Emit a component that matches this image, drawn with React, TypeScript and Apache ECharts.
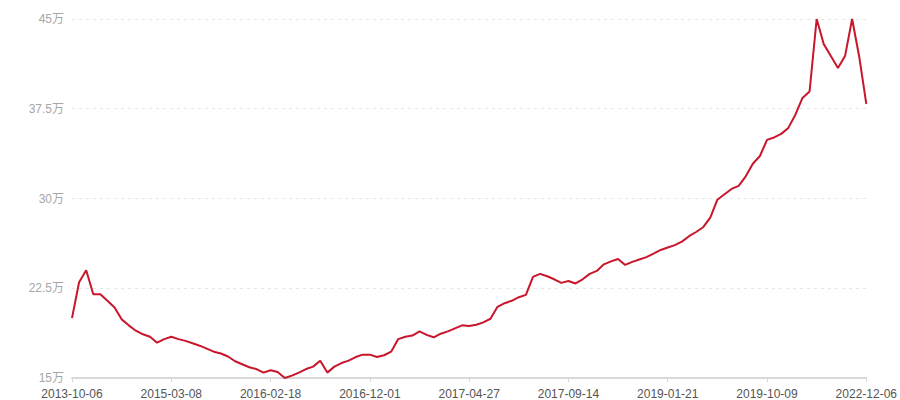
import React, { useEffect, useRef } from "react";
import * as echarts from "echarts";

// дати (категорії осі X), мітки видно кожні 14 точок
const dates = [
  "2013-10-06", "2013-11-12", "2013-12-19", "2014-01-25", "2014-03-03", "2014-04-09", "2014-05-16",
  "2014-06-22", "2014-07-29", "2014-09-04", "2014-10-11", "2014-11-17", "2014-12-24", "2015-01-30",
  "2015-03-08", "2015-04-02", "2015-04-27", "2015-05-22", "2015-06-16", "2015-07-11", "2015-08-05",
  "2015-08-30", "2015-09-24", "2015-10-19", "2015-11-13", "2015-12-08", "2016-01-02", "2016-01-27",
  "2016-02-18", "2016-03-09", "2016-03-30", "2016-04-20", "2016-05-11", "2016-06-01", "2016-06-22",
  "2016-07-13", "2016-08-03", "2016-08-24", "2016-09-14", "2016-10-05", "2016-10-26", "2016-11-14",
  "2016-12-01", "2016-12-12", "2016-12-22", "2017-01-02", "2017-01-12", "2017-01-23", "2017-02-02",
  "2017-02-13", "2017-02-23", "2017-03-06", "2017-03-16", "2017-03-27", "2017-04-06", "2017-04-17",
  "2017-04-27", "2017-05-07", "2017-05-17", "2017-05-27", "2017-06-06", "2017-06-16", "2017-06-26",
  "2017-07-06", "2017-07-16", "2017-07-26", "2017-08-05", "2017-08-15", "2017-08-25", "2017-09-04",
  "2017-09-14", "2017-10-19", "2017-11-23", "2017-12-28", "2018-02-01", "2018-03-08", "2018-04-12",
  "2018-05-17", "2018-06-21", "2018-07-26", "2018-08-30", "2018-10-04", "2018-11-08", "2018-12-13",
  "2019-01-21", "2019-02-08", "2019-02-27", "2019-03-17", "2019-04-05", "2019-04-24", "2019-05-12",
  "2019-05-31", "2019-06-19", "2019-07-07", "2019-07-26", "2019-08-14", "2019-09-01", "2019-09-20",
  "2019-10-09", "2019-12-30", "2020-03-21", "2020-06-11", "2020-09-01", "2020-11-22", "2021-02-12",
  "2021-05-05", "2021-07-26", "2021-10-16", "2022-01-06", "2022-03-29", "2022-06-19", "2022-09-09",
  "2022-12-06",
];

// ціна, юанів
const prices = [
  200000, 230000, 240000, 220000, 220000, 214500, 209000, 199000, 194000, 189500, 186500, 184500,
  179500, 182500, 184500, 182500, 181000, 179000, 177000, 174500, 172000, 170500, 168000, 164000,
  161500, 159000, 157500, 154500, 156500, 155000, 150000, 152000, 154500, 157500, 159500, 164500,
  154500, 159500, 162500, 164500, 167500, 169500, 169500, 167500, 169000, 172000, 182500, 184500,
  185500, 189000, 186000, 184000, 187000, 189000, 191500, 194000, 193500, 194500, 196500, 199500,
  209500, 212500, 214500, 217500, 219500, 234500, 237000, 235000, 232500, 229500, 231000, 229000,
  232500, 237000, 239500, 245000, 247500, 249500, 244500, 247000, 249000, 251000, 254000, 257000,
  259000, 261000, 264000, 268500, 272000, 276000, 284000, 299000, 303500, 308000, 310500, 318500,
  329000, 335500, 349000, 351000, 354000, 359000, 370000, 384000, 389500, 450000, 429000, 419000,
  409000, 419000, 450000, 418500, 379000,
];

// шкала осі Y
const yMin = 150000;
const yMax = 450000;
const yStep = 75000;

const font = "'Microsoft YaHei', 'Liberation Sans', 'Noto Sans CJK SC', sans-serif";

const App = () => {
  const chartRef = useRef<HTMLDivElement>(null);

  useEffect(() => {
    const chart = echarts.init(chartRef.current, null, { renderer: "svg" });

    chart.setOption({
      animation: false,
      grid: { left: 72, right: 32, top: 19, bottom: 21 },
      xAxis: {
        type: "category",
        boundaryGap: false,
        data: dates,
        axisLine: { lineStyle: { color: "#d9d9d9", width: 2 } },
        axisTick: { interval: 13, length: 4, lineStyle: { color: "#d9d9d9" } },
        axisLabel: {
          interval: 13,
          margin: 10,
          color: "#555",
          fontSize: 12,
          fontFamily: font,
        },
        splitLine: { show: false },
      },
      yAxis: {
        type: "value",
        min: yMin,
        max: yMax,
        interval: yStep,
        axisLine: { show: false },
        axisTick: { show: false },
        axisLabel: {
          margin: 8,
          color: "#a6a6a6",
          fontSize: 12,
          fontFamily: font,
          formatter: (v: number) => `${v / 10000}万`,
        },
        splitLine: { lineStyle: { color: "#e6e6e6", type: [3, 4] } },
      },
      series: [
        {
          type: "line",
          data: prices,
          showSymbol: false,
          clip: false,
          lineStyle: { color: "#c8162c", width: 2 },
        },
      ],
    });

    return () => chart.dispose();
  }, []);

  return (
    <div
      ref={chartRef}
      style={{ position: "absolute", left: 0, top: 0, width: "900px", height: "400px" }}
    />
  );
};

export default App;
